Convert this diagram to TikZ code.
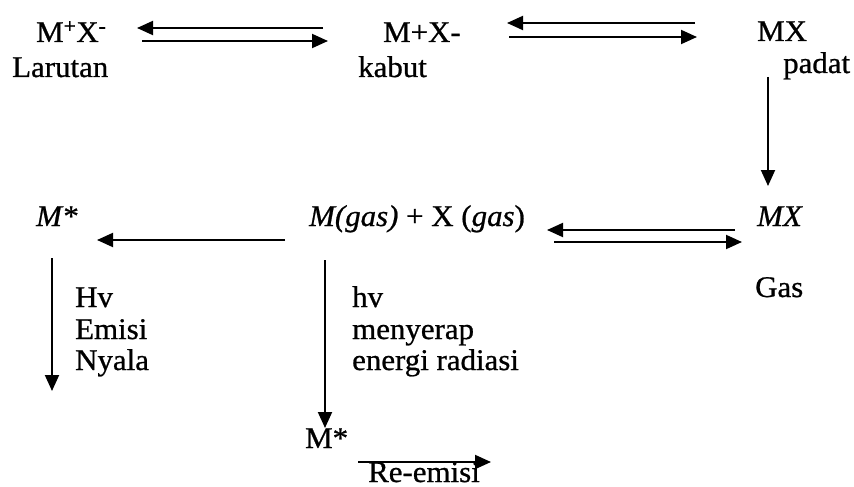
\documentclass[tikz,border=0pt]{standalone}
\usepackage{fontspec}
\setmainfont{Liberation Serif}[FakeStretch=1.03,FakeBold=0.8]
\usetikzlibrary{arrows.meta}
\begin{document}
\begin{tikzpicture}[x=1pt,y=-1pt,
  lbl/.style={anchor=base west,inner sep=0pt,font=\fontsize{30}{35}\selectfont},
  arr/.style={line width=1.9pt,-{Triangle[length=16pt,width=14pt]}}]
\useasboundingbox (0,0) rectangle (854,487);
% row 1
\node[lbl] (mxion) at (36,42) {M\textsuperscript{+}X\textsuperscript{-}};
\node[lbl] (larutan) at (12,77) {Larutan};
\node[lbl] (mpx) at (383,42) {M+X-};
\node[lbl] (kabut) at (358,77) {kabut};
\node[lbl] (mxs) at (757,41) {MX};
\node[lbl] (padat) at (783,73) {padat};
% row 2
\node[lbl] (mstar) at (36,226) {\textit{M*}};
\node[lbl] (mgas) at (309,226) {\textit{M(gas)} + X (\textit{gas})};
\node[lbl] (mxg) at (757,226) {\textit{MX}};
\node[lbl] (gas) at (755,297) {Gas};
\node[lbl] (hva) at (75,307) {Hv};
\node[lbl] (emisi) at (75,339) {Emisi};
\node[lbl] (nyala) at (75,370) {Nyala};
\node[lbl] (hvb) at (352,307) {hv};
\node[lbl] (menyerap) at (352,339) {menyerap};
\node[lbl] (energi) at (352,370) {energi radiasi};
\node[lbl] (mstarb) at (305,448) {M*};
\node[lbl] (reemisi) at (368,482) {Re-emisi};
% arrow end points
\coordinate (a1t) at (323,28); \coordinate (a1h) at (137,28);
\coordinate (b1t) at (142,41); \coordinate (b1h) at (328,41);
\coordinate (a2t) at (695,23); \coordinate (a2h) at (507,23);
\coordinate (b2t) at (509,37); \coordinate (b2h) at (697,37);
\coordinate (vt) at (768,77); \coordinate (vh) at (768,186);
\coordinate (lt) at (285,240); \coordinate (lh) at (97,240);
\coordinate (a3t) at (735,230); \coordinate (a3h) at (547,230);
\coordinate (b3t) at (554,242); \coordinate (b3h) at (742,242);
\coordinate (v1t) at (52,258); \coordinate (v1h) at (52,391);
\coordinate (v2t) at (325,260); \coordinate (v2h) at (325,428);
\coordinate (rt) at (358,462); \coordinate (rh) at (491,462);
\draw[arr] (a1t) -- (a1h);
\draw[arr] (b1t) -- (b1h);
\draw[arr] (a2t) -- (a2h);
\draw[arr] (b2t) -- (b2h);
\draw[arr] (vt) -- (vh);
\draw[arr] (lt) -- (lh);
\draw[arr] (a3t) -- (a3h);
\draw[arr] (b3t) -- (b3h);
\draw[arr] (v1t) -- (v1h);
\draw[arr] (v2t) -- (v2h);
\draw[arr] (rt) -- (rh);
\end{tikzpicture}
\end{document}
